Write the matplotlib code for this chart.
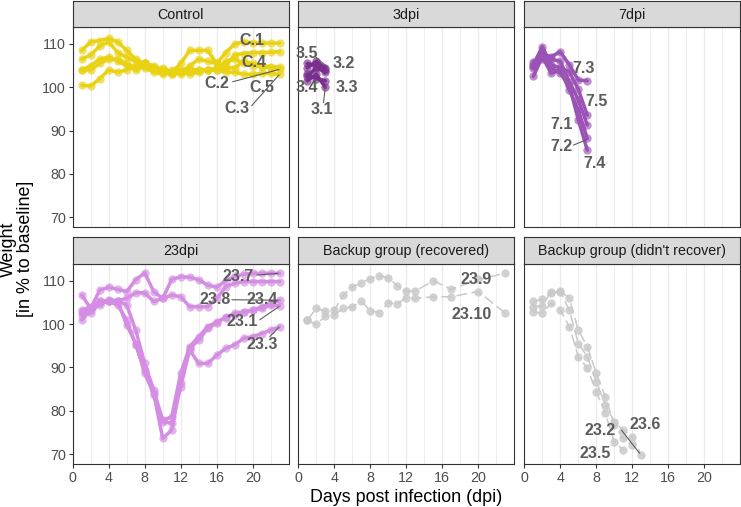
"""
Weight curves of infected mice, one facet per group (ggplot-like facet_wrap).
"""

import matplotlib.pyplot as plt

plt.rcParams['font.family'] = ['Liberation Sans', 'DejaVu Sans']

# ---------------------------------------------------------------- data
days_23 = list(range(1, 24))
days_3dpi = [1, 2, 3]
days_7dpi = [1, 2, 3, 4, 5, 6, 7]
days_recovered = [1, 2, 3, 4, 5, 6, 7, 8, 9, 10, 11, 12, 13, 15, 17, 20, 23]

# Control
c_1 = [108.5, 110.5, 110.8, 111.3, 110.5, 108.5, 106.5, 105.5, 104.5, 103.5, 103.0, 103.5,
       105.0, 106.5, 106.0, 105.5, 108.0, 110.0, 110.5, 110.3, 110.2, 110.2, 110.2]
c_4 = [106.5, 107.5, 109.5, 110.5, 108.0, 107.0, 106.0, 105.5, 105.0, 104.0, 103.5, 105.5,
       108.5, 108.5, 108.5, 105.5, 105.0, 107.5, 107.8, 108.0, 108.0, 108.1, 108.2]
c_2 = [104.0, 104.0, 105.5, 106.5, 106.5, 105.5, 104.5, 104.5, 103.5, 103.0, 104.0, 104.0,
       104.0, 104.0, 104.0, 104.5, 106.0, 106.5, 105.5, 105.0, 104.8, 104.5, 104.2]
c_5 = [104.0, 105.0, 106.5, 107.0, 106.0, 105.0, 104.0, 105.5, 104.0, 104.5, 103.5, 103.0,
       104.0, 104.0, 104.0, 104.0, 104.5, 104.5, 106.0, 105.5, 105.0, 104.8, 104.6]
c_3 = [100.5, 100.3, 102.0, 104.0, 103.5, 104.0, 105.0, 105.5, 104.5, 103.5, 103.0, 103.5,
       103.0, 103.5, 104.0, 104.0, 103.5, 103.5, 103.0, 103.0, 103.2, 103.2, 103.0]

# 3dpi
m3_1 = [101.5, 103.0, 100.0]
m3_2 = [105.5, 105.0, 104.0]
m3_3 = [103.0, 102.0, 101.5]
m3_4 = [102.5, 104.5, 103.5]
m3_5 = [104.5, 106.0, 104.5]

# 7dpi
m7_1 = [104.4, 106.5, 106.5, 106.0, 101.3, 97.1, 91.3]
m7_2 = [102.5, 107.0, 103.2, 104.0, 99.4, 94.8, 88.2]
m7_3 = [105.9, 107.5, 107.1, 108.2, 105.2, 101.7, 101.5]
m7_4 = [105.0, 108.0, 104.5, 103.2, 100.5, 92.5, 85.5]
m7_5 = [105.2, 109.4, 105.2, 104.5, 103.6, 99.5, 93.6]

# 23dpi
m23_1 = [102.1, 102.5, 104.8, 105.2, 104.4, 100.9, 95.2, 89.4, 83.6, 77.5, 77.1, 85.5,
         94.4, 96.3, 99.0, 100.2, 101.7, 102.1, 102.8, 103.2, 103.6, 104.4, 104.2]
m23_3 = [100.9, 103.2, 105.2, 105.4, 105.2, 99.8, 95.5, 88.6, 84.0, 73.6, 75.5, 86.3,
         94.0, 90.9, 90.9, 92.8, 94.4, 95.2, 96.7, 97.1, 97.8, 98.6, 99.4]
m23_4 = [103.2, 104.0, 104.4, 105.5, 105.4, 104.4, 98.6, 90.9, 84.8, 77.8, 78.6, 88.6,
         94.8, 97.1, 99.4, 100.5, 101.5, 102.5, 102.8, 103.2, 104.0, 104.6, 105.5]
m23_7 = [106.7, 103.6, 107.8, 108.5, 108.0, 107.5, 110.2, 111.8, 107.5, 105.9, 110.3, 110.9,
         110.8, 110.2, 109.0, 108.5, 110.0, 111.0, 111.5, 111.7, 111.7, 111.7, 111.7]
m23_8 = [102.8, 103.6, 105.2, 105.4, 105.4, 105.9, 107.2, 107.2, 105.2, 105.9, 106.7, 106.3,
         104.0, 104.0, 104.0, 105.9, 108.6, 109.4, 109.8, 109.8, 109.8, 109.8, 109.8]

# Backup group (recovered)
m23_9 = [100.9, 103.6, 103.0, 103.2, 106.7, 108.5, 109.5, 110.5, 111.1, 110.7, 108.8, 107.6,
         107.6, 110.0, 108.0, 110.3, 111.7]
m23_10 = [100.9, 99.9, 101.8, 102.1, 103.6, 104.0, 105.2, 103.1, 102.6, 104.9, 104.6, 106.1,
          105.9, 106.3, 106.3, 107.5, 102.5]

# Backup group (didn't recover)
m23_2 = [104.0, 104.2, 107.5, 107.5, 103.2, 95.5, 92.5, 86.7, 81.3, 77.5, 75.5, 74.0, 69.8]
m23_5 = [102.8, 102.5, 104.8, 103.2, 99.4, 92.5, 89.8, 84.4, 79.4, 72.8, 70.9]
m23_6 = [105.2, 105.7, 107.1, 107.6, 105.9, 98.6, 94.8, 88.6, 83.2, 76.7, 73.6, 72.1]

# ---------------------------------------------------------------- styles
YELLOW = "#E9D214"
DARK_PURPLE = "#7A2E8E"
MID_PURPLE = "#9B52B5"
LIGHT_PURPLE = "#D48DE2"
GREY = "#C9C9C9"
LABEL_COL = "#5C5C5C"

# (title, colour, dashed, [(mouse id, days, weights, label xy)])
panels = [
    ("Control", YELLOW, False, [
        ("C.1", days_23, c_1, (19.9, 110.9)),
        ("C.4", days_23, c_4, (20.1, 105.7)),
        ("C.2", days_23, c_2, (16.0, 100.9)),
        ("C.5", days_23, c_5, (21.0, 100.0)),
        ("C.3", days_23, c_3, (18.2, 95.2)),
    ]),
    ("3dpi", DARK_PURPLE, False, [
        ("3.1", days_3dpi, m3_1, (2.6, 94.9)),
        ("3.2", days_3dpi, m3_2, (5.0, 105.5)),
        ("3.3", days_3dpi, m3_3, (5.4, 100.0)),
        ("3.4", days_3dpi, m3_4, (0.9, 100.0)),
        ("3.5", days_3dpi, m3_5, (0.9, 107.8)),
    ]),
    ("7dpi", MID_PURPLE, False, [
        ("7.1", days_7dpi, m7_1, (4.15, 91.5)),
        ("7.2", days_7dpi, m7_2, (4.15, 86.3)),
        ("7.3", days_7dpi, m7_3, (6.6, 104.4)),
        ("7.4", days_7dpi, m7_4, (7.85, 82.5)),
        ("7.5", days_7dpi, m7_5, (8.0, 96.7)),
    ]),
    ("23dpi", LIGHT_PURPLE, False, [
        ("23.1", days_23, m23_1, (18.8, 100.5)),
        ("23.3", days_23, m23_3, (21.0, 95.2)),
        ("23.4", days_23, m23_4, (21.0, 105.7)),
        ("23.7", days_23, m23_7, (18.4, 110.9)),
        ("23.8", days_23, m23_8, (15.8, 105.7)),
    ]),
    ("Backup group (recovered)", GREY, True, [
        ("23.9", days_recovered, m23_9, (19.8, 110.2)),
        ("23.10", days_recovered, m23_10, (19.3, 102.3)),
    ]),
    ("Backup group (didn't recover)", GREY, True, [
        ("23.2", days_23[:13], m23_2, (8.4, 75.5)),
        ("23.5", days_23[:11], m23_5, (7.85, 70.2)),
        ("23.6", days_23[:12], m23_6, (13.4, 76.7)),
    ]),
]

# repel-style connector segments: label -> point (label, target xy)
segments = {
    "C.2": ((17.8, 101.3), (22.9, 104.1)),
    "C.3": ((19.9, 95.8), (22.9, 102.8)),
    "3.5": ((2.0, 106.8), (3.2, 104.8)),
    "3.1": ((2.8, 96.5), (3.0, 99.9)),
    "7.2": ((5.5, 86.7), (6.9, 87.9)),
    "23.7": ((20.5, 111.3), (22.8, 111.7)),
    "23.8": ((17.7, 105.6), (22.8, 105.5)),
    "23.1": ((20.8, 101.0), (22.9, 104.0)),
    "23.3": ((21.9, 97.1), (22.9, 99.2)),
    "23.2": ((10.8, 75.5), (12.8, 70.2)),
}

# ---------------------------------------------------------------- layout
W, H = 741, 507
fig = plt.figure(figsize=(W / 100, H / 100), dpi=100)


def px_axes(left, top, width, height):
    return fig.add_axes([left / W, 1 - (top + height) / H, width / W, height / H])


col_left = [72.7, 298.3, 524.3]
row_top = [27.3, 264.0]
pw, ph, sh = 216.0, 200.0, 26.7

for i, (title, colour, dashed, mice) in enumerate(panels):
    r, c = divmod(i, 3)
    ax = px_axes(col_left[c], row_top[r], pw, ph)
    strip = px_axes(col_left[c], row_top[r] - sh, pw, sh)

    strip.set_facecolor("#D9D9D9")
    strip.set_xticks([])
    strip.set_yticks([])
    for s in strip.spines.values():
        s.set_color("#333333")
        s.set_linewidth(0.8)
    strip.text(0.5, 0.47, title, ha="center", va="center", fontsize=10.3, color="#1A1A1A")

    for name, d, w, lab in mice:
        if dashed:
            ax.plot(d, w, color=colour, linewidth=1.1, dashes=(7, 3), zorder=2)
            ax.plot(d, w, "o", color=colour, markersize=6.0, alpha=0.85,
                    markeredgewidth=0, zorder=3)
        else:
            ax.plot(d, w, color=colour, linewidth=2.5, zorder=2, solid_capstyle="round")
            ax.plot(d, w, "o", color=colour, markersize=6.0, alpha=0.65,
                    markeredgewidth=0, zorder=3)
        ax.text(lab[0], lab[1], name, ha="center", va="center", fontsize=11.5,
                fontweight="bold", color=LABEL_COL, zorder=5, clip_on=False)
        if name in segments:
            (x0, y0), (x1, y1) = segments[name]
            ax.plot([x0, x1], [y0, y1], color=LABEL_COL, linewidth=0.8, zorder=4)

    ax.set_xlim(0, 24)
    ax.set_ylim(67.7, 113.85)
    ax.set_xticks([0, 4, 8, 12, 16, 20])
    ax.set_xticks([2, 6, 10, 14, 18, 22], minor=True)
    ax.set_yticks([70, 80, 90, 100, 110])
    ax.grid(True, axis="x", which="major", color="#EBEBEB", linewidth=1.0, zorder=0)
    ax.grid(True, axis="x", which="minor", color="#EBEBEB", linewidth=0.6, zorder=0)
    ax.set_axisbelow(True)
    for s in ax.spines.values():
        s.set_color("#333333")
        s.set_linewidth(0.8)
    ax.tick_params(which="minor", length=0)
    ax.tick_params(which="major", length=2.75, width=0.8, color="#333333",
                   labelsize=10.3, labelcolor="#4D4D4D", pad=2.2)
    if r == 0:
        ax.tick_params(axis="x", which="major", length=0, labelbottom=False)
    if c != 0:
        ax.tick_params(axis="y", which="major", length=0, labelleft=False)

fig.text(406.5 / W, 1 - 497 / H, "Days post infection (dpi)", ha="center", va="center",
         fontsize=12.9, color="black")
fig.text(17 / W, 1 - 249 / H, "Weight\n[in % to baseline]", ha="center", va="center",
         rotation=90, fontsize=12.9, color="black", linespacing=0.95)

fig.savefig("out.png", dpi=100)
